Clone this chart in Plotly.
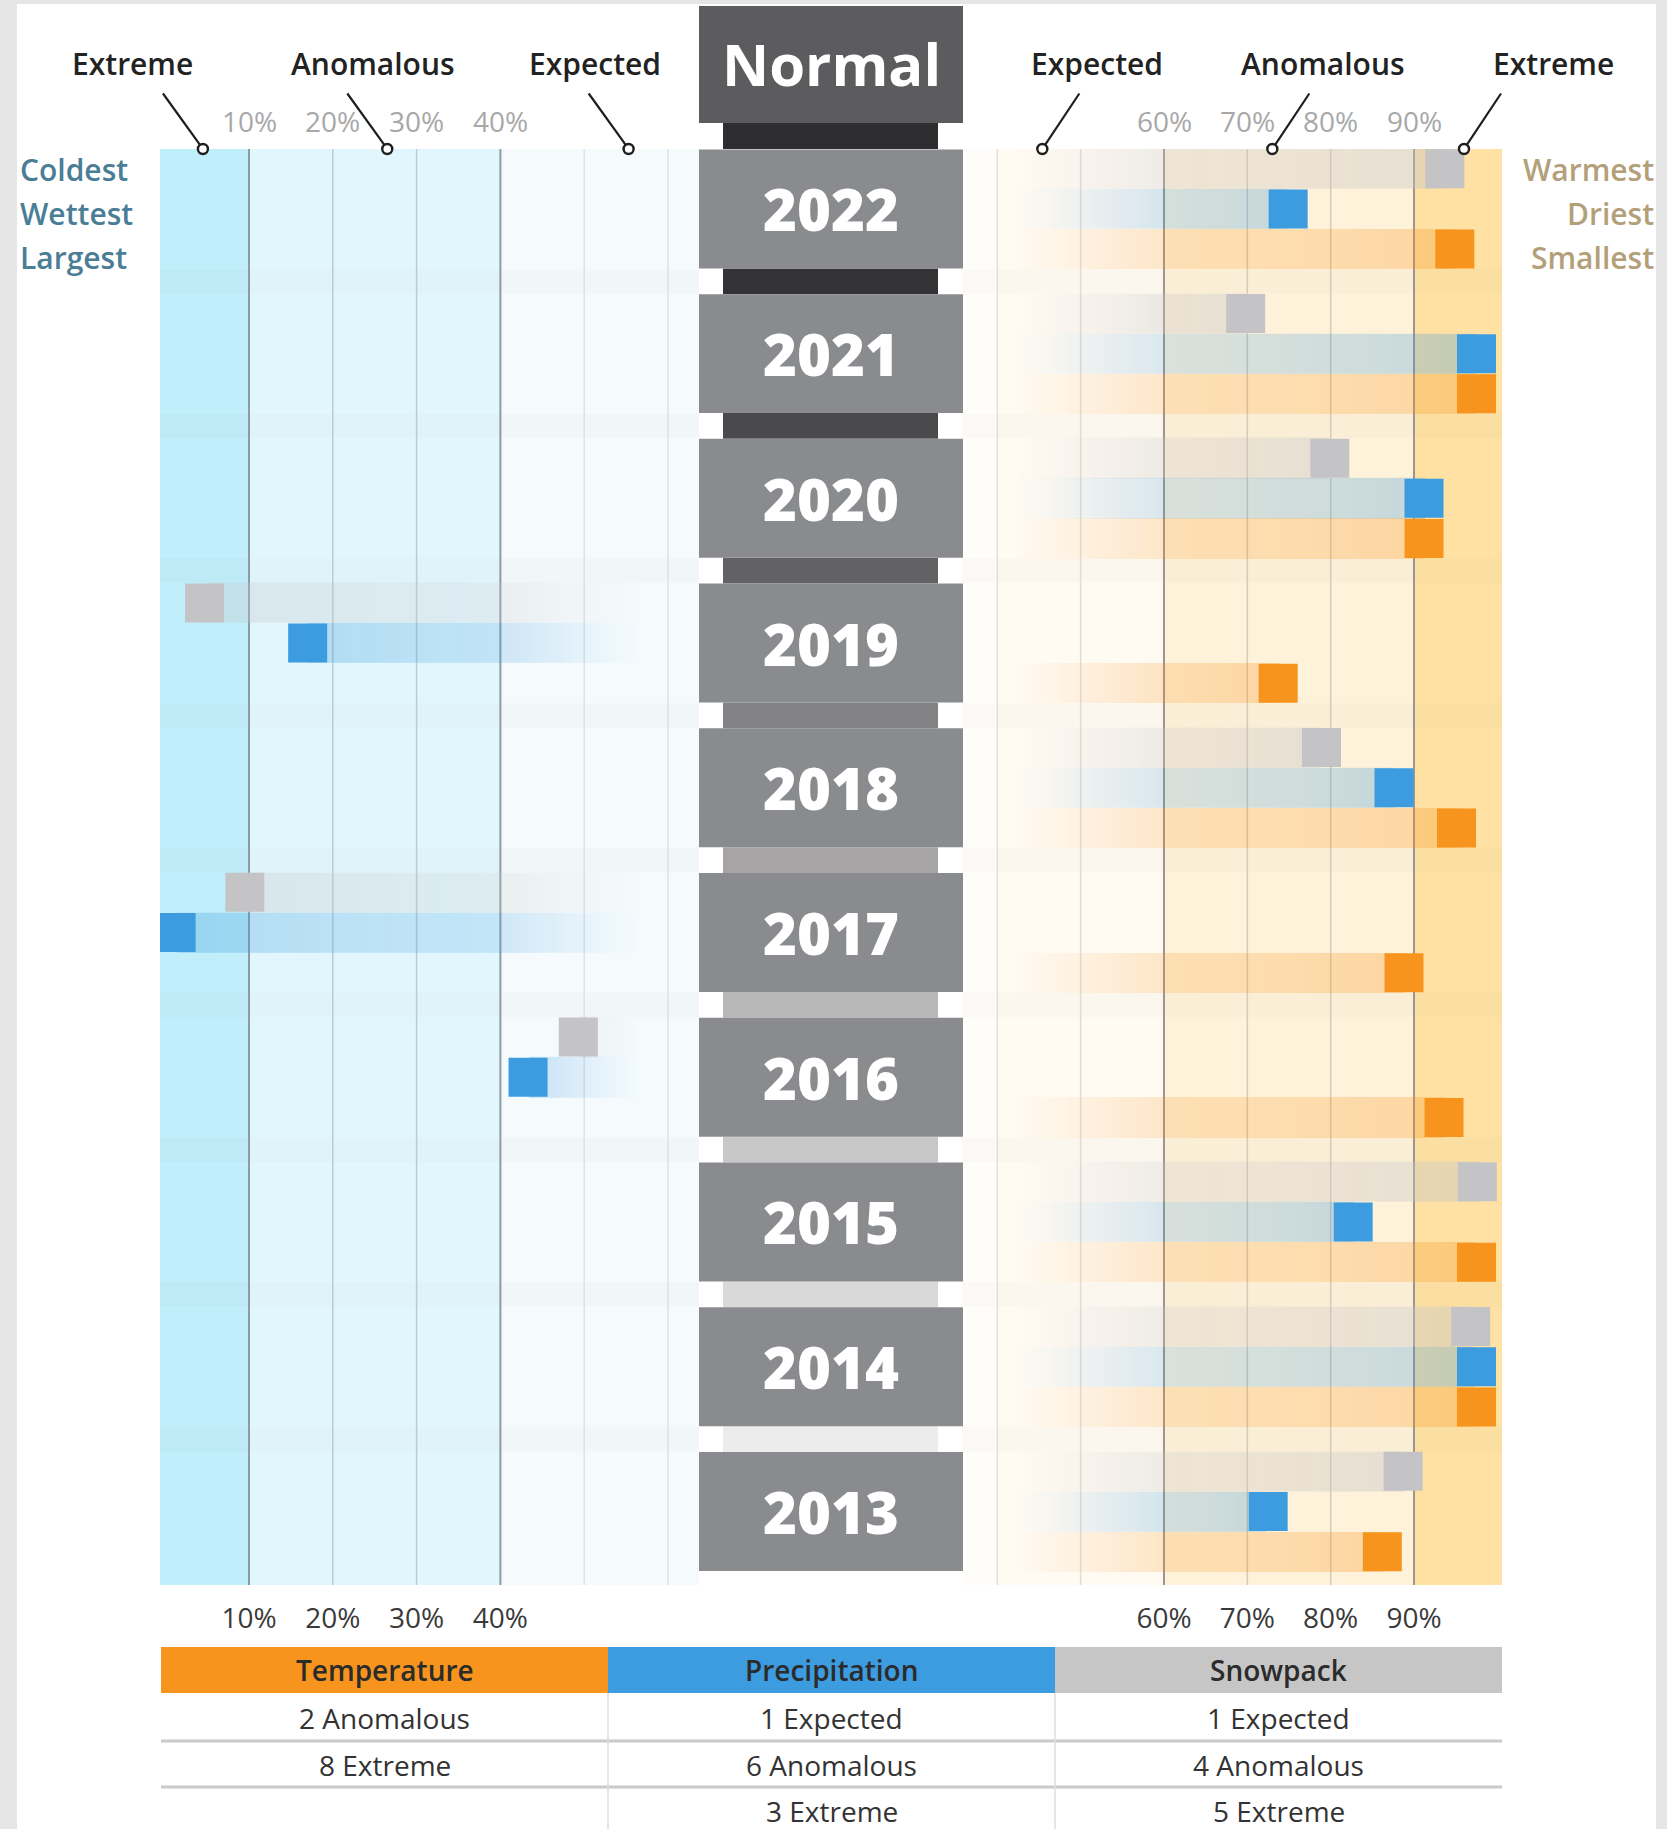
import numpy as np
import plotly.graph_objects as go

W, H = 1667, 1829

# ---------------- data ----------------
years = [2022, 2021, 2020, 2019, 2018, 2017, 2016, 2015, 2014, 2013]
snowpack = [93.7, 69.8, 79.9, 4.7, 78.9, 9.5, 49.3, 97.6, 96.8, 88.7]
precipitation = [74.9, 97.5, 91.2, 17.0, 87.6, 1.3, 43.3, 82.7, 97.5, 72.5]
temperature = [94.9, 97.5, 91.2, 73.7, 95.1, 88.8, 93.6, 97.5, 97.5, 86.2]

left_ticks = [10, 20, 30, 40]
left_tick_text = ["10%", "20%", "30%", "40%"]
right_ticks = [60, 70, 80, 90]
right_tick_text = ["60%", "70%", "80%", "90%"]
left_grid = [10, 20, 30, 40, 50, 60]
right_grid = [40, 50, 60, 70, 80, 90]

callouts_left = ["Extreme", "Anomalous", "Expected"]
callout_left_at = [4.5, 26.5, 55.3]
callouts_right = ["Expected", "Anomalous", "Extreme"]
callout_right_at = [45.4, 73.0, 96.0]

left_side_labels = ["Coldest", "Wettest", "Largest"]
right_side_labels = ["Warmest", "Driest", "Smallest"]
center_header = "Normal"

table_headers = ["Temperature", "Precipitation", "Snowpack"]
temperature_counts = ["2 Anomalous", "8 Extreme", ""]
precipitation_counts = ["1 Expected", "6 Anomalous", "3 Extreme"]
snowpack_counts = ["1 Expected", "4 Anomalous", "5 Extreme"]

# ---------------- layout geometry ----------------
FONT = "Open Sans"
LEFT_RANGE = [-0.62, 63.7]
LEFT_PX = [160, 699]
RIGHT_RANGE = [35.76, 100.56]
RIGHT_PX = [962, 1502]
Y_TOP, Y_BOT = -1.49, 34.23
PLOT_TOP_PX, PLOT_BOT_PX = 149, 1585
YEAR_STEP = 3.6
BOX_HALF = 1.48

def px_x(p):
    return p / W

def px_y(p):
    return 1 - p / H

def ydata_to_px(y):
    return PLOT_TOP_PX + (y - Y_TOP) * (PLOT_BOT_PX - PLOT_TOP_PX) / (Y_BOT - Y_TOP)

# name, values, row offset, rgb, max alpha right, max alpha left
series = [
    ("Snowpack", snowpack, -1, (196, 196, 198), 0.42, 0.32),
    ("Precipitation", precipitation, 0, (61, 155, 224), 0.30, 0.30),
    ("Temperature", temperature, 1, (247, 148, 29), 0.30, 0.30),
]

fig = go.Figure()

# ---------------- trails (heatmaps) ----------------
def trail_alpha(x, v, side):
    if side == "right":
        s = 42.0
        if v < 50 or x < s or x > v:
            return None
        t = (x - s) / max(v - s, 1e-6)
        return 0.55 * min(1.0, (x - s) / 18.0) + 0.45 * t ** 1.5
    s = 57.0
    if v >= 50 or x < v or x > s:
        return None
    t = (s - x) / max(s - v, 1e-6)
    return 0.55 * min(1.0, (s - x) / 16.0) + 0.45 * t ** 1.5

def trail_heatmap(values, offset, rgb, amax, side):
    rng = RIGHT_RANGE if side == "right" else LEFT_RANGE
    xs = np.arange(rng[0], rng[1], 0.5) + 0.25
    edges, z = [], []
    for i, v in enumerate(values):
        c = YEAR_STEP * i + offset
        edges.append(c - 0.5)
        z.append([trail_alpha(x, v, side) for x in xs])
        edges.append(c + 0.5)
        if i < len(values) - 1:
            z.append([None] * len(xs))
    # edges currently has duplicates pattern: c-0.5, c+0.5, c'-0.5, c'+0.5 ... (gap rows between)
    r, g, b = rgb
    return go.Heatmap(
        x=xs.tolist(), y=edges, z=z, zmin=0, zmax=1,
        colorscale=[[0, f"rgba({r},{g},{b},0)"], [1, f"rgba({r},{g},{b},{amax})"]],
        showscale=False, hoverinfo="skip",
        xaxis="x2" if side == "right" else "x", yaxis="y",
    )

for name, vals, off, rgb, amax_r, amax_l in series:
    fig.add_trace(trail_heatmap(vals, off, rgb, amax_r, "right"))
    fig.add_trace(trail_heatmap(vals, off, rgb, amax_l, "left"))

# ---------------- markers ----------------
for name, vals, off, rgb, _, _ in series:
    color = "rgb(%d,%d,%d)" % rgb
    ys = [YEAR_STEP * i + off for i in range(len(vals))]
    lx = [v for v in vals if v < 50]
    ly = [y for v, y in zip(vals, ys) if v < 50]
    rx = [v for v in vals if v >= 50]
    ry = [y for v, y in zip(vals, ys) if v >= 50]
    fig.add_trace(go.Scatter(x=lx, y=ly, mode="markers", xaxis="x", yaxis="y",
                             marker=dict(symbol="square", size=39, color=color, line=dict(width=0)),
                             hoverinfo="skip", name=name))
    fig.add_trace(go.Scatter(x=rx, y=ry, mode="markers", xaxis="x2", yaxis="y",
                             marker=dict(symbol="square", size=39, color=color, line=dict(width=0)),
                             hoverinfo="skip", name=name))

# callout circles
fig.add_trace(go.Scatter(x=callout_left_at, y=[Y_TOP] * 3, mode="markers", xaxis="x", yaxis="y",
                         cliponaxis=False, hoverinfo="skip",
                         marker=dict(symbol="circle", size=10, color="white",
                                     line=dict(color="#1e1e1e", width=2.4))))
fig.add_trace(go.Scatter(x=callout_right_at, y=[Y_TOP] * 3, mode="markers", xaxis="x2", yaxis="y",
                         cliponaxis=False, hoverinfo="skip",
                         marker=dict(symbol="circle", size=10, color="white",
                                     line=dict(color="#1e1e1e", width=2.4))))

# ---------------- shapes ----------------
shapes = []
shapes.append(dict(type="rect", xref="paper", yref="paper", x0=px_x(17), x1=px_x(1656),
                   y0=0, y1=px_y(4), fillcolor="white", line=dict(width=0), layer="below"))
bands = [
    ("x", LEFT_RANGE[0], 10, "#c0eefa"),
    ("x", 10, 40, "#e2f7fd"),
    ("x", 40, LEFT_RANGE[1], "#f5fbfd"),
    ("x2", RIGHT_RANGE[0], 40, "#fffdf9"),
    ("x2", 40, 60, "#fffaf2"),
    ("x2", 60, 90, "#fff2da"),
    ("x2", 90, RIGHT_RANGE[1], "#fee1a3"),
]
for xr, a, b, col in bands:
    shapes.append(dict(type="rect", xref=xr, yref="y", x0=a, x1=b, y0=Y_TOP, y1=Y_BOT,
                       fillcolor=col, line=dict(width=0), layer="below"))
for i in range(len(years) - 1):
    g0 = YEAR_STEP * i + 1.5
    g1 = YEAR_STEP * (i + 1) - 1.5
    for xr, rng in (("x", LEFT_RANGE), ("x2", RIGHT_RANGE)):
        shapes.append(dict(type="rect", xref=xr, yref="y", x0=rng[0], x1=rng[1], y0=g0, y1=g1,
                           fillcolor="rgba(150,155,160,0.04)", line=dict(width=0), layer="below"))
left_grid_style = {10: ("#8d9ca2", 2), 20: ("#bccbd0", 1.5), 30: ("#bccbd0", 1.5),
                   40: ("#8d9ca2", 2), 50: ("#dbe3e6", 1.5), 60: ("#dbe3e6", 1.5)}
right_grid_style = {40: ("#e2ddd5", 1.5), 50: ("#e2ddd5", 1.5), 60: ("#9d968c", 2),
                    70: ("#d3cab9", 1.5), 80: ("#d3cab9", 1.5), 90: ("#9d968c", 2)}
for g in left_grid:
    c, w = left_grid_style[g]
    shapes.append(dict(type="line", xref="x", yref="y", x0=g, x1=g, y0=Y_TOP, y1=Y_BOT,
                       line=dict(color=c, width=w), layer="below"))
for g in right_grid:
    c, w = right_grid_style[g]
    shapes.append(dict(type="line", xref="x2", yref="y", x0=g, x1=g, y0=Y_TOP, y1=Y_BOT,
                       line=dict(color=c, width=w), layer="below"))

BOX_X0, BOX_X1 = 699, 963
CON_X0, CON_X1 = 723, 938
shapes.append(dict(type="rect", xref="paper", yref="paper", x0=px_x(BOX_X0), x1=px_x(BOX_X1),
                   y0=px_y(123), y1=px_y(6), fillcolor="#5c5c5e", line=dict(width=0)))
shapes.append(dict(type="rect", xref="paper", yref="paper", x0=px_x(CON_X0), x1=px_x(CON_X1),
                   y0=px_y(PLOT_TOP_PX), y1=px_y(123), fillcolor="#2e2e30", line=dict(width=0)))
connector_colors = ["#333335", "#4a4a4c", "#626264", "#838385", "#a6a4a4",
                    "#b7b7b7", "#c8c8c8", "#d9d9d9", "#ececec"]
for i in range(len(years) - 1):
    y0 = ydata_to_px(YEAR_STEP * i + BOX_HALF)
    y1 = ydata_to_px(YEAR_STEP * (i + 1) - BOX_HALF)
    shapes.append(dict(type="rect", xref="paper", yref="paper", x0=px_x(CON_X0), x1=px_x(CON_X1),
                       y0=px_y(y1), y1=px_y(y0), fillcolor=connector_colors[i], line=dict(width=0)))
for i in range(len(years)):
    y0 = ydata_to_px(YEAR_STEP * i - BOX_HALF)
    y1 = ydata_to_px(YEAR_STEP * i + BOX_HALF)
    shapes.append(dict(type="rect", xref="paper", yref="paper", x0=px_x(BOX_X0), x1=px_x(BOX_X1),
                       y0=px_y(y1), y1=px_y(y0), fillcolor="#8a8b8e", line=dict(width=0)))

COLS = [(161, 608), (608, 1055), (1055, 1502)]
HEAD_Y0, HEAD_Y1 = 1647, 1693
ROW_Y = [1718, 1765, 1811]
header_colors = ["#f7941d", "#3d9be0", "#c6c6c6"]
for (a, b), col in zip(COLS, header_colors):
    shapes.append(dict(type="rect", xref="paper", yref="paper", x0=px_x(a), x1=px_x(b),
                       y0=px_y(HEAD_Y1), y1=px_y(HEAD_Y0), fillcolor=col, line=dict(width=0)))
for sep in (1741, 1787):
    shapes.append(dict(type="line", xref="paper", yref="paper", x0=px_x(161), x1=px_x(1502),
                       y0=px_y(sep), y1=px_y(sep), line=dict(color="#cacaca", width=3)))
for xv in (608, 1055):
    shapes.append(dict(type="line", xref="paper", yref="paper", x0=px_x(xv), x1=px_x(xv),
                       y0=0, y1=px_y(HEAD_Y1), line=dict(color="#dedede", width=1.5)))

# ---------------- annotations ----------------
ann = []
def text(x, y, s, size, color, weight=400, xanchor="center", family=FONT):
    ann.append(dict(x=x, y=y, xref="paper", yref="paper", text=s, showarrow=False,
                    xanchor=xanchor, yanchor="middle",
                    font=dict(family=family, size=size, color=color, weight=weight)))

left_label_px = [132, 373, 595]
right_label_px = [1097, 1323, 1553]
for s, xp in zip(callouts_left, left_label_px):
    text(px_x(xp), px_y(64), s, 30, "#222222", 600)
for s, xp in zip(callouts_right, right_label_px):
    text(px_x(xp), px_y(64), s, 30, "#222222", 600)
for v in callout_left_at:
    ann.append(dict(x=v, y=Y_TOP, xref="x", yref="y", text="", showarrow=True, arrowhead=0,
                    ax=-41, ay=-57, arrowwidth=2.2, arrowcolor="#1e1e1e", standoff=5))
for v in callout_right_at:
    ann.append(dict(x=v, y=Y_TOP, xref="x2", yref="y", text="", showarrow=True, arrowhead=0,
                    ax=38, ay=-57, arrowwidth=2.2, arrowcolor="#1e1e1e", standoff=5))

for v, s in zip(left_ticks, left_tick_text):
    ann.append(dict(x=v, y=px_y(121), xref="x", yref="paper", text=s, showarrow=False,
                    font=dict(family=FONT, size=28, color="#a8a8a8"), yanchor="middle"))
for v, s in zip(right_ticks, right_tick_text):
    ann.append(dict(x=v, y=px_y(121), xref="x2", yref="paper", text=s, showarrow=False,
                    font=dict(family=FONT, size=28, color="#a8a8a8"), yanchor="middle"))

text(px_x((BOX_X0 + BOX_X1) / 2), px_y(64), center_header, 58, "white", 700)
for i, yr in enumerate(years):
    ann.append(dict(x=px_x((BOX_X0 + BOX_X1) / 2), y=YEAR_STEP * i, xref="paper", yref="y",
                    text=str(yr), showarrow=False, yanchor="middle",
                    font=dict(family=FONT, size=58, color="white", weight=800)))

for k, s in enumerate(left_side_labels):
    text(px_x(18), px_y(169 + 44 * k), s, 30, "#4a7d96", 600, xanchor="left")
for k, s in enumerate(right_side_labels):
    text(px_x(1656), px_y(169 + 44 * k), s, 30, "#b3a07a", 600, xanchor="right")

columns = [temperature_counts, precipitation_counts, snowpack_counts]
for (a, b), head, rows in zip(COLS, table_headers, columns):
    text(px_x((a + b) / 2), px_y((HEAD_Y0 + HEAD_Y1) / 2), head, 28, "#2b2b2b", 600)
    for ry, s in zip(ROW_Y, rows):
        if s:
            text(px_x((a + b) / 2), px_y(ry), s, 28, "#333333", 400)

axis_common = dict(showgrid=False, zeroline=False, showline=False, ticks="",
                   tickfont=dict(family=FONT, size=28, color="#3a3a3a"),
                   ticklabelstandoff=14, fixedrange=True, anchor="y")

fig.update_layout(
    width=W, height=H,
    margin=dict(l=0, r=0, t=0, b=0),
    paper_bgcolor="#e6e6e6",
    plot_bgcolor="rgba(0,0,0,0)",
    showlegend=False,
    xaxis=dict(domain=[px_x(LEFT_PX[0]), px_x(LEFT_PX[1])], range=LEFT_RANGE,
               tickvals=left_ticks, ticktext=left_tick_text, **axis_common),
    xaxis2=dict(domain=[px_x(RIGHT_PX[0]), px_x(RIGHT_PX[1])], range=RIGHT_RANGE,
                tickvals=right_ticks, ticktext=right_tick_text, **axis_common),
    yaxis=dict(domain=[px_y(PLOT_BOT_PX), px_y(PLOT_TOP_PX)], range=[Y_BOT, Y_TOP],
               visible=False, fixedrange=True),
    shapes=shapes,
    annotations=ann,
)

fig.write_html("out.html", config={"displayModeBar": False},
               post_script="document.body.style.margin='0';")
